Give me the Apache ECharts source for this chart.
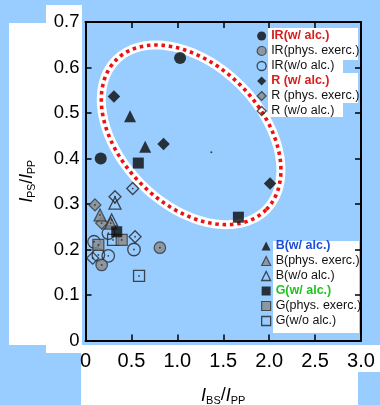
<!DOCTYPE html>
<html><head><meta charset="utf-8">
<script src="https://cdn.jsdelivr.net/npm/echarts@6/dist/echarts.min.js"></script>
<style>html,body{margin:0;padding:0;background:#99ccff}#c{width:380px;height:405px}</style>
</head><body><div id="c"></div>
<script>
// ---- data ----
const xTickLabels = ['0','0.5','1.0','1.5','2.0','2.5','3.0'];
const yTickLabels = ['0','0.1','0.2','0.3','0.4','0.5','0.6','0.7'];

const irAlc   = [[1.03,0.621],[0.166,0.400]];
const irPhys  = [[0.81,0.204],[0.176,0.166]];
const irNo    = [[0.249,0.236],[0.093,0.217],[0.528,0.200],[0.14,0.188],[0.248,0.186]];
const rAlc    = [[0.31,0.536],[0.85,0.432],[2.01,0.345]];
const rPhys   = [[0.103,0.298],[0.176,0.258]];
const rNo     = [[0.321,0.316],[0.514,0.334],[0.54,0.228],[0.078,0.181]];
const bAlc    = [[0.485,0.493],[0.65,0.426]];
const bPhys   = [[0.158,0.276],[0.274,0.258]];
const bNo     = [[0.321,0.302],[0.285,0.265]];
const gAlc    = [[0.575,0.390],[1.665,0.271],[0.34,0.239]];
const gPhys   = [[0.14,0.210],[0.394,0.221]];
const gNo     = [[0.30,0.221],[0.583,0.142]];
const stray   = [[1.37,0.414]];

// ---- styles ----
const BLACK = '#000';
const GREY = '#8a8a8a';
const filled = {color: '#0a0a0a', borderColor: '#0a0a0a', borderWidth: 0};
const greyS  = {color: GREY, borderColor: '#333', borderWidth: 1.2};
const openS  = {color: 'rgba(0,0,0,0)', borderColor: '#222', borderWidth: 1.3};

function sc(name, data, symbol, size, style, z) {
  return {type:'scatter', name, data, symbol, symbolSize:size, itemStyle:style, z: z||20,
          emphasis:{disabled:true}, silent:true};
}
function dot(name, data) {
  return {type:'scatter', name, data, symbol:'circle', symbolSize:1.8,
          itemStyle:{color:'#222'}, z:30, emphasis:{disabled:true}, silent:true};
}

const series = [
  sc('IR(w/o alc.)', irNo, 'circle', 12.5, openS),
  sc('R (w/o alc.)', rNo, 'diamond', 12, openS),
  sc('B(w/o alc.)', bNo, 'triangle', 12, openS),
  sc('G(w/o alc.)', gNo, 'rect', 11, openS),
  sc('IR(phys. exerc.)', irPhys, 'circle', 11.5, greyS),
  sc('R (phys. exerc.)', rPhys, 'diamond', 12, greyS),
  sc('B(phys. exerc.)', bPhys, 'triangle', 12, greyS),
  sc('G(phys. exerc.)', gPhys, 'rect', 11, greyS),
  sc('IR(w/ alc.)', irAlc, 'circle', 12, filled),
  sc('R (w/ alc.)', rAlc, 'diamond', 12.5, filled),
  sc('B(w/ alc.)', bAlc, 'triangle', 12, filled),
  sc('G(w/ alc.)', gAlc, 'rect', 11, filled),
  dot('IR(w/o alc.)', irNo), dot('R (w/o alc.)', rNo), dot('B(w/o alc.)', bNo), dot('G(w/o alc.)', gNo),
  dot('IR(phys. exerc.)', irPhys), dot('R (phys. exerc.)', rPhys), dot('B(phys. exerc.)', bPhys), dot('G(phys. exerc.)', gPhys),
  {type:'scatter', name:'stray', data:stray, symbol:'circle', symbolSize:2, itemStyle:{color:'#222'}, z:30, silent:true}
];

const legTxt = {fontFamily:'Liberation Sans, Arial, sans-serif', fontSize:12.5, color:'#111', lineHeight:15, padding:0};
function li(name, icon, extra) {
  return {name, icon, textStyle: Object.assign({}, legTxt, extra||{})};
}
const RED = {color:'#d81e1e', fontWeight:'bold'};
const BLUE = {color:'#1f4fd6', fontWeight:'bold'};
const GREEN = {color:'#1fc41f', fontWeight:'bold'};

const legendBase = {orient:'vertical', padding:0, itemGap:0, itemWidth:9, itemHeight:9,
  selectedMode:false, textStyle:legTxt, z:40,
  itemStyle:{borderWidth:'inherit', borderColor:'inherit'}};

const tickFmtX = v => xTickLabels[Math.round(v/0.5)];
const tickFmtY = v => yTickLabels[Math.round(v/0.1)];

const axLine = {show:true, onZero:false, lineStyle:{color:BLACK, width:2}};
const axTick = {show:true, inside:true, length:6, lineStyle:{color:BLACK, width:1.5}};
const nameRich = (big, small) => ({
  i:{fontFamily:'Liberation Sans', fontStyle:'italic', fontSize:big, lineHeight:big+4, color:BLACK},
  n:{fontFamily:'Liberation Sans', fontSize:big, lineHeight:big+4, color:BLACK},
  s:{fontFamily:'Liberation Sans', fontSize:small, lineHeight:big+4, verticalAlign:'bottom', color:BLACK}
});

const chart = echarts.init(document.getElementById('c'), null, {renderer:'canvas'});
chart.setOption({
  backgroundColor:'#99ccff',
  animation:false,
  grid:{left:85.5, right:19, top:22, bottom:64.5, containLabel:false, outerBoundsMode:'none'},
  xAxis:[
    {type:'value', min:0, max:3, interval:0.5, position:'bottom', z:10,
     axisLine:axLine, axisTick:axTick, splitLine:{show:false},
     axisLabel:{margin:11, formatter:tickFmtX, fontFamily:'Liberation Sans', fontSize:20, color:BLACK},
     name:'{i|I}{s|BS}{n|/}{i|I}{s|PP}', nameLocation:'middle', nameGap:44,
     nameTextStyle:{rich:nameRich(18,11)}},
    {type:'value', min:0, max:3, interval:0.5, position:'top', z:10,
     axisLine:axLine, axisTick:axTick, splitLine:{show:false}, axisLabel:{show:false}}
  ],
  yAxis:[
    {type:'value', min:0, max:0.7, interval:0.1, position:'left', z:10,
     axisLine:axLine, axisTick:axTick, splitLine:{show:false},
     axisLabel:{margin:6, formatter:tickFmtY, fontFamily:'Liberation Sans', fontSize:18.5, color:BLACK},
     name:'{i|I}{s|PS}{n|/}{i|I}{s|PP}', nameLocation:'middle', nameGap:48, nameRotate:90,
     nameTextStyle:{rich:nameRich(17.5,10.5)}},
    {type:'value', min:0, max:0.7, interval:0.1, position:'right', z:10,
     axisLine:axLine, axisTick:axTick, splitLine:{show:false}, axisLabel:{show:false}}
  ],
  legend:[
    Object.assign({}, legendBase, {left:256.5, top:28.5, data:[
      li('IR(w/ alc.)','circle',RED), li('IR(phys. exerc.)','circle'), li('IR(w/o alc.)','circle'),
      li('R (w/ alc.)','diamond',RED), li('R (phys. exerc.)','diamond'), li('R (w/o alc.)','diamond')]}),
    Object.assign({}, legendBase, {left:261, top:238.5, data:[
      li('B(w/ alc.)','triangle',BLUE), li('B(phys. exerc.)','triangle'), li('B(w/o alc.)','triangle'),
      li('G(w/ alc.)','rect',GREEN), li('G(phys. exerc.)','rect'), li('G(w/o alc.)','rect')]})
  ],
  series
});

// white paper patches and the dotted ellipse annotation
const c = chart.convertToPixel({gridIndex:0}, [1.15, 0.452]);
const a = 106, b = 70, rot = Math.PI/4;
const pts = [];
for (let k = 0; k < 160; k++) {
  const t = k/160*2*Math.PI;
  const ex = a*Math.cos(t), ey = b*Math.sin(t);
  pts.push([c[0] + ex*Math.cos(rot) - ey*Math.sin(rot), c[1] + ex*Math.sin(rot) + ey*Math.cos(rot)]);
}
const W = '#ffffff';
const rect = (id,x,y,w,h) => ({id, type:'rect', shape:{x,y,width:w,height:h}, style:{fill:W}, z:1, silent:true});
chart.setOption({graphic:{elements:[
  rect('p1', 9, 23, 37, 322),
  rect('p2', 46, 5, 36, 348),
  rect('p3', 81, 345, 299, 27),
  rect('p4', 81, 372, 277, 33),
  rect('l1', 268, 28, 90, 32),
  rect('l2', 268, 60, 75, 13),
  rect('l3', 268, 73, 90, 30),
  rect('l4', 268, 103, 75, 14),
  rect('l5', 273, 241, 86, 92),
  {id:'ew', type:'polygon', shape:{points:pts}, style:{fill:'none', stroke:'#fff', lineWidth:9}, z:15, silent:true},
  {id:'er', type:'polygon', shape:{points:pts}, style:{fill:'none', stroke:'#ee1111', lineWidth:3.6, lineDash:[3.5,3.8], lineCap:'butt'}, z:16, silent:true}
]}});
</script></body></html>
